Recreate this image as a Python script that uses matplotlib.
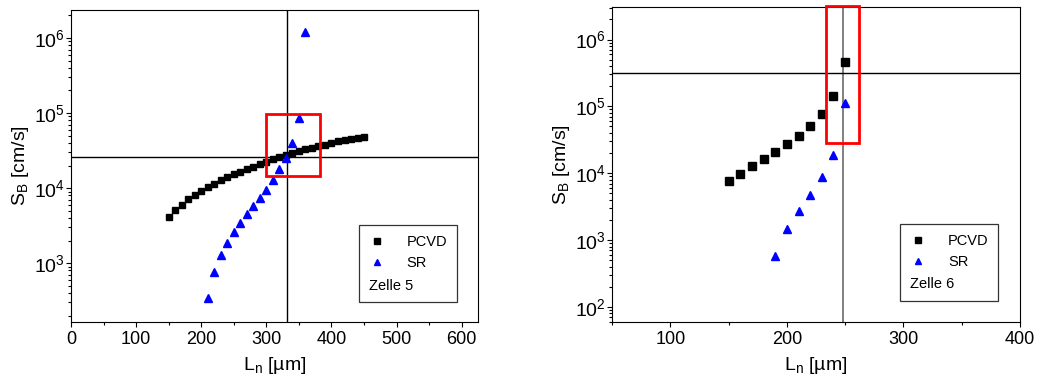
import matplotlib
matplotlib.use("Agg")
import matplotlib.pyplot as plt
from matplotlib.patches import Rectangle
from matplotlib.ticker import LogLocator, MultipleLocator, NullFormatter

plt.rcParams["font.family"] = ["Liberation Sans", "DejaVu Sans"]
plt.rcParams["mathtext.fontset"] = "custom"
plt.rcParams["mathtext.rm"] = "Liberation Sans"
plt.rcParams["mathtext.it"] = "Liberation Sans:italic"
plt.rcParams["mathtext.bf"] = "Liberation Sans:bold"

# ---- Zelle 5 ----
z5_pcvd_L = [150, 160, 170, 180, 190, 200, 210, 220, 230, 240, 250, 260, 270, 280,
             290, 300, 310, 320, 330, 340, 350, 360, 370, 380, 390, 400, 410, 420,
             430, 440, 450]
z5_pcvd_S = [4180, 5140, 5990, 7050, 8140, 9290, 10400, 11500, 12900, 14000, 15400,
             16600, 18100, 19400, 20900, 22400, 24100, 25900, 27500, 29300, 31100,
             32700, 34500, 36300, 38100, 39800, 41800, 43600, 45400, 46800, 47900]
z5_sr_L = [210, 220, 230, 240, 250, 260, 270, 280, 290, 300, 310, 320, 330, 340, 350, 360]
z5_sr_S = [341, 773, 1290, 1880, 2590, 3410, 4500, 5750, 7360, 9570, 12800, 17700,
           25300, 40500, 84700, 1.21e6]
z5_cross_L = 332
z5_cross_S = 2.6e4
z5_box = (300, 382, 1.47e4, 9.8e4)   # L_min, L_max, S_min, S_max

# ---- Zelle 6 ----
z6_pcvd_L = [150, 160, 170, 180, 190, 200, 210, 220, 230, 240, 250]
z6_pcvd_S = [7590, 9770, 12600, 16200, 20800, 27400, 36100, 51000, 78200, 142000, 469000]
z6_sr_L = [190, 200, 210, 220, 230, 240, 250]
z6_sr_S = [579, 1450, 2700, 4690, 8710, 18600, 111000]
z6_cross_L = 248
z6_cross_S = 3.2e5
z6_box = (234, 262, 2.82e4, 3.2e6)

fig = plt.figure(figsize=(10.37, 3.92), dpi=100)
ax1 = fig.add_axes([71 / 1037, 1 - 321.7 / 392, 407 / 1037, 311.7 / 392])
ax2 = fig.add_axes([612 / 1037, 1 - 321.7 / 392, 408 / 1037, 315 / 392])


def style_axes(ax, xlim, ylim, xmajor):
    ax.set_yscale("log")
    ax.set_xlim(*xlim)
    ax.set_ylim(*ylim)
    ax.xaxis.set_major_locator(MultipleLocator(xmajor))
    ax.xaxis.set_minor_locator(MultipleLocator(xmajor / 2))
    ax.yaxis.set_major_locator(LogLocator(base=10, numticks=20))
    ax.yaxis.set_minor_locator(LogLocator(base=10, subs=range(2, 10), numticks=20))
    ax.yaxis.set_minor_formatter(NullFormatter())
    ax.tick_params(which="both", direction="out", top=False, right=False,
                   width=0.8, colors="black")
    ax.tick_params(axis="x", labelsize=13, pad=3)
    ax.tick_params(axis="y", labelsize=14, pad=1)
    ax.tick_params(which="major", length=3.5)
    ax.tick_params(which="minor", length=2)
    for sp in ax.spines.values():
        sp.set_linewidth(0.8)
        sp.set_color("black")
    ax.set_xlabel(r"L$_\mathregular{n}$ [µm]", fontsize=14, labelpad=5)
    ax.set_ylabel(r"S$_\mathregular{B}$ [cm/s]", fontsize=14, labelpad=2)


def add_legend(ax, cell, anchor):
    leg = ax.legend(title=cell, loc="lower right", bbox_to_anchor=anchor,
                    borderaxespad=0, fontsize=10.5, title_fontsize=10.5,
                    frameon=True, fancybox=False, edgecolor="black",
                    handlelength=1.1, handletextpad=1.5, labelspacing=0.5,
                    borderpad=0.65, alignment="left", markerscale=0.85)
    leg.get_frame().set_linewidth(0.9)
    # cell name sits below the entries
    box = leg._legend_box
    box._children = list(reversed(box._children))
    box.sep = 6
    return leg


def draw_panel(ax, pL, pS, sL, sS, cL, cS, rect, vcolor, ms_sq, ms_tr):
    ax.axvline(cL, color=vcolor, lw=1.0 if vcolor == "black" else 1.4, zorder=1)
    ax.axhline(cS, color="black", lw=1.0, zorder=1)
    ax.plot(pL, pS, ls="none", marker="s", ms=ms_sq, color="black",
            mec="black", label="PCVD", zorder=3)
    ax.plot(sL, sS, ls="none", marker="^", ms=ms_tr, color="blue",
            mec="blue", label="SR", zorder=3)
    x0, x1, y0, y1 = rect
    ax.add_patch(Rectangle((x0, y0), x1 - x0, y1 - y0, fill=False,
                           edgecolor="red", lw=2.0, zorder=4, clip_on=False))


draw_panel(ax1, z5_pcvd_L, z5_pcvd_S, z5_sr_L, z5_sr_S, z5_cross_L, z5_cross_S,
           z5_box, "black", 4.6, 5.2)
style_axes(ax1, (0, 625), (166, 2.36e6), 100)
add_legend(ax1, "Zelle 5", (0.948, 0.063))

draw_panel(ax2, z6_pcvd_L, z6_pcvd_S, z6_sr_L, z6_sr_S, z6_cross_L, z6_cross_S,
           z6_box, "#808080", 5.2, 5.2)
style_axes(ax2, (50, 400), (60, 3.1e6), 100)
add_legend(ax2, "Zelle 6", (0.946, 0.066))

fig.savefig("out.png", dpi=100)
